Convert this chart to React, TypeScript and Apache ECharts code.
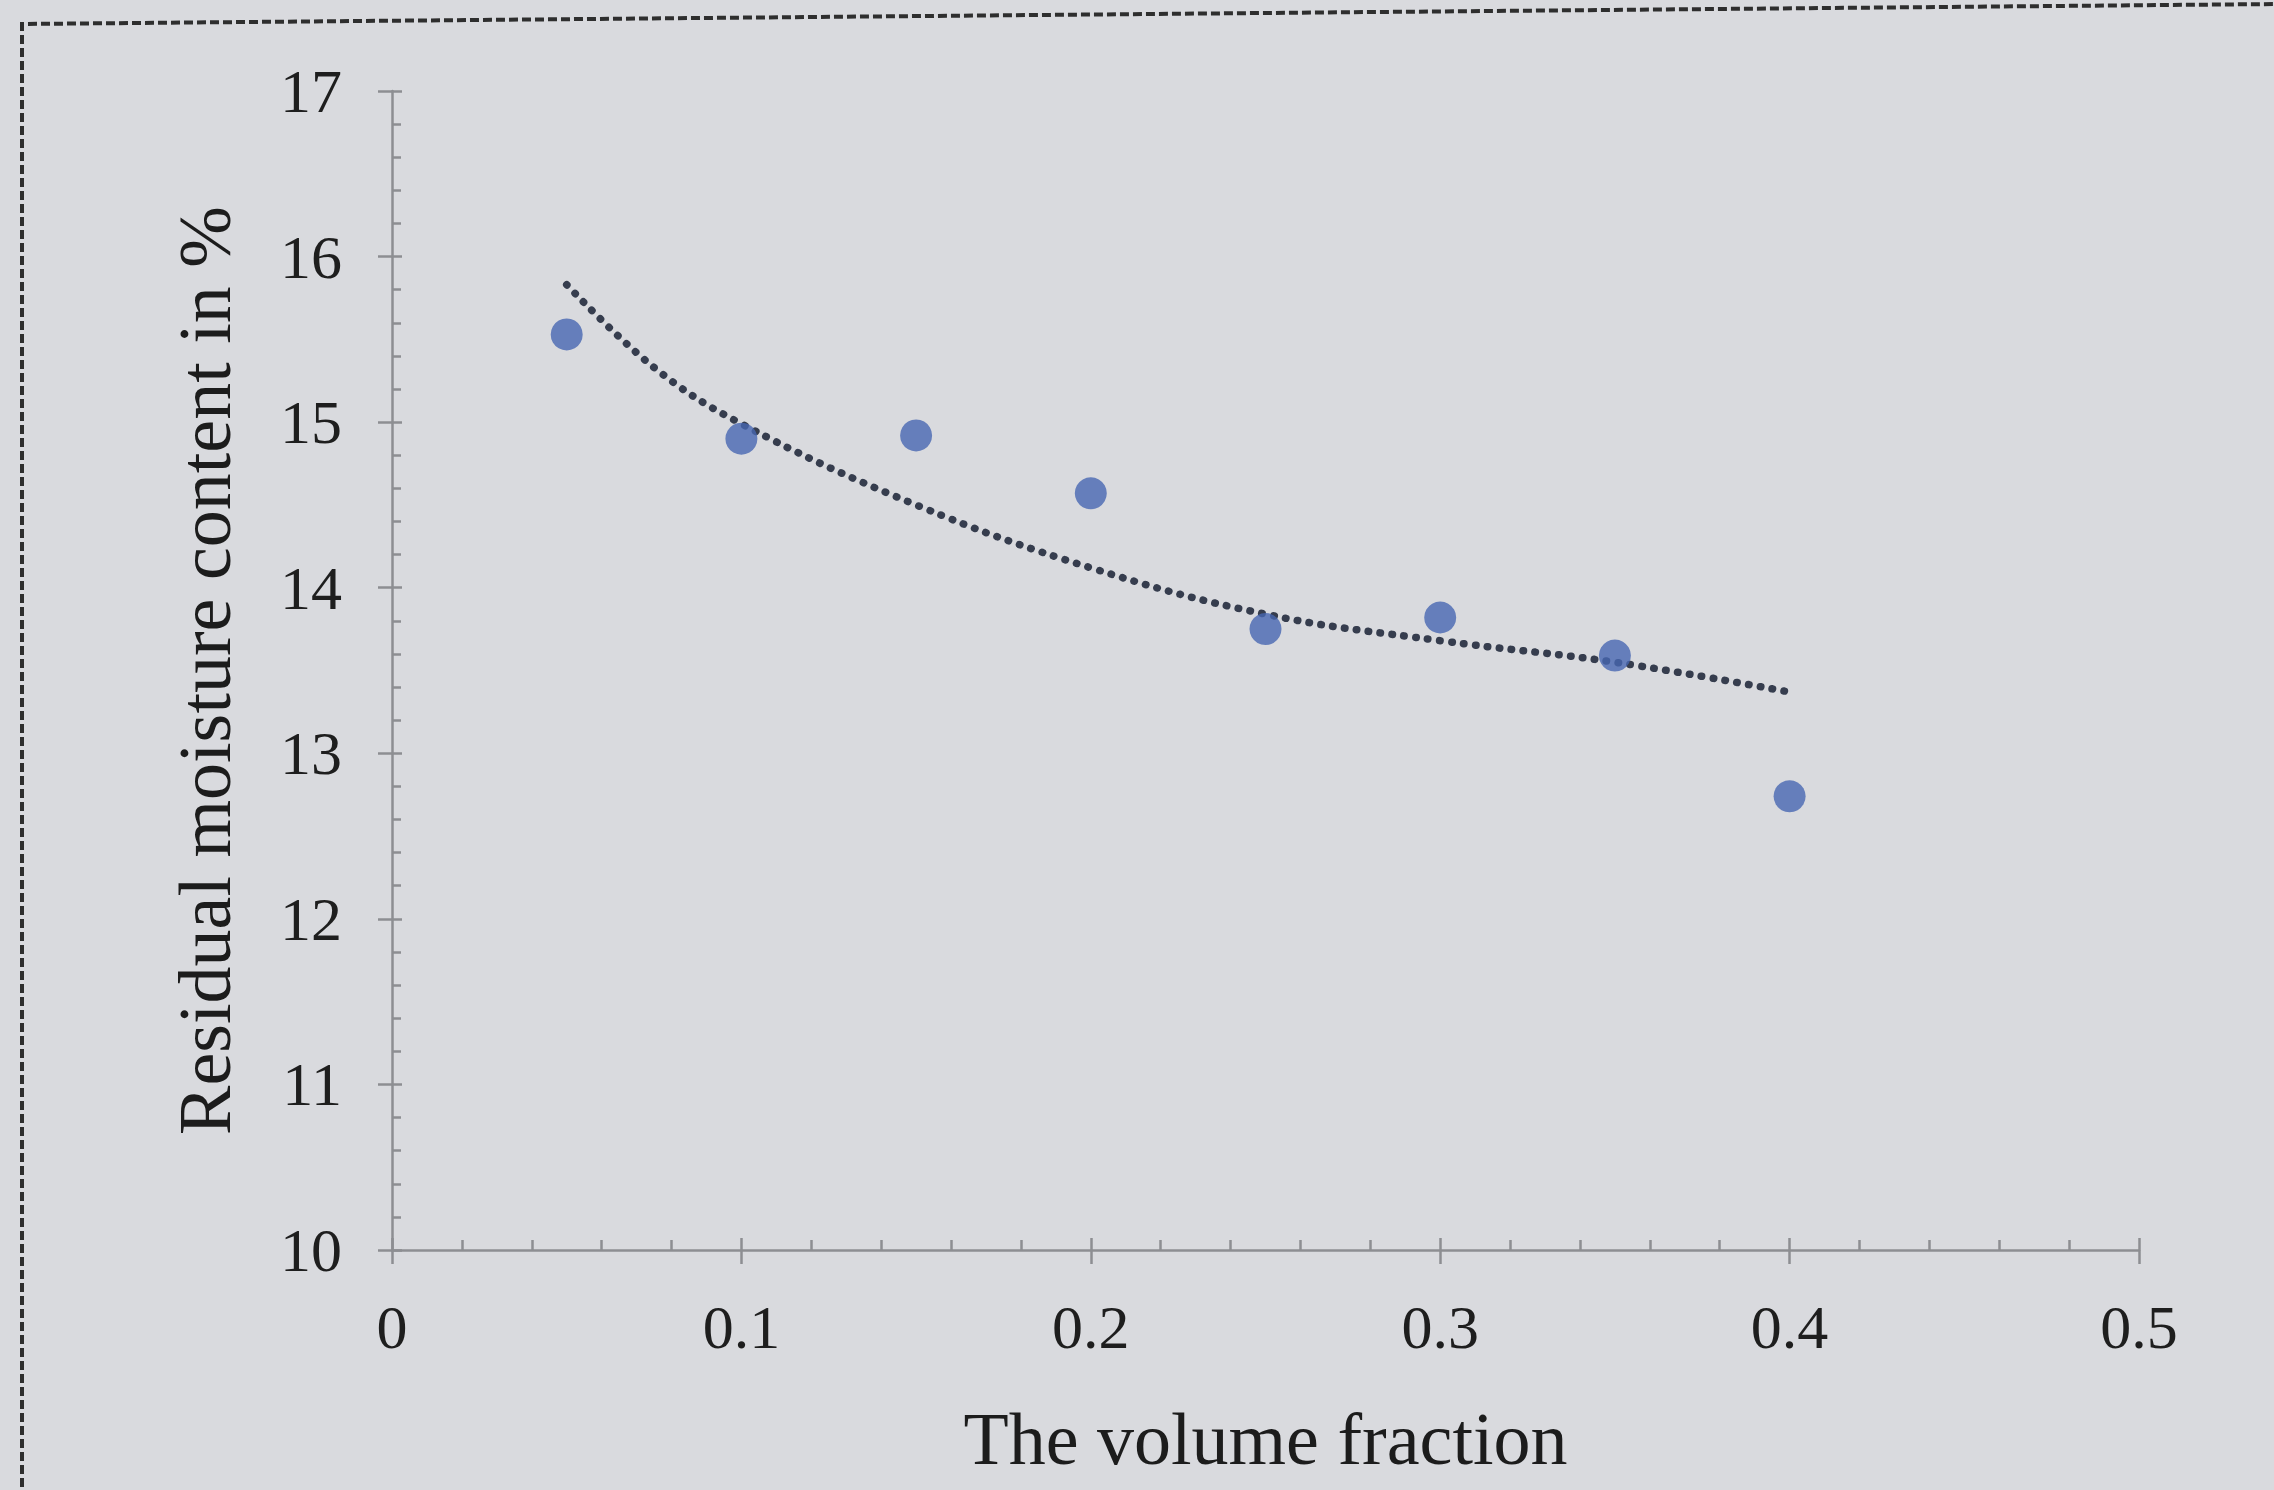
import React, { useEffect, useRef } from "react";
import * as echarts from "echarts";

const xValues = [0.05, 0.1, 0.15, 0.2, 0.25, 0.3, 0.35, 0.4];
const moisture = [15.53, 14.9, 14.92, 14.57, 13.75, 13.82, 13.59, 12.74];
const trendX = [0.05, 0.075, 0.1, 0.15, 0.2, 0.25, 0.3, 0.35, 0.4];
const trendY = [15.83, 15.33, 14.99, 14.5, 14.12, 13.84, 13.68, 13.55, 13.37];

const xTitle = "The volume fraction";
const yTitle = "Residual moisture content in %";

const FONT = "Liberation Serif";
const AXIS_COLOR = "#8d8e92";

export default function App() {
  const ref = useRef<HTMLDivElement>(null);
  useEffect(() => {
    if (!ref.current) return;
    const chart = echarts.init(ref.current, null, { renderer: "svg" });
    const grid = { left: 392, right: 135, top: 91, bottom: 240 };
    const baseX = {
      type: "value",
      min: 0,
      max: 0.5,
      interval: 0.1,
      splitLine: { show: false },
    };
    const baseY = {
      type: "value",
      min: 10,
      max: 17,
      interval: 1,
      splitLine: { show: false },
    };
    chart.setOption({
      animation: false,
      backgroundColor: "#d9dade",
      grid,
      xAxis: [
        {
          ...baseX,
          name: xTitle,
          nameLocation: "middle",
          nameGap: 152,
          nameTextStyle: { fontFamily: FONT, fontSize: 74, color: "#1c1c1c" },
          axisLine: { show: true, lineStyle: { color: AXIS_COLOR, width: 2.5 } },
          axisTick: { show: true, inside: false, length: 14, lineStyle: { color: AXIS_COLOR, width: 2.5 } },
          minorTick: { show: false },
          axisLabel: { fontFamily: FONT, fontSize: 62, color: "#1e1e1e", margin: 46 },
        },
        {
          ...baseX,
          position: "bottom",
          axisLine: { show: false },
          axisTick: { show: true, inside: true, length: 12, lineStyle: { color: AXIS_COLOR, width: 2.5 } },
          minorTick: { show: true, splitNumber: 5, length: 10, lineStyle: { color: AXIS_COLOR, width: 2.5 } },
          axisLabel: { show: false },
        },
      ],
      yAxis: [
        {
          ...baseY,
          name: yTitle,
          nameLocation: "middle",
          nameGap: 150,
          nameTextStyle: { fontFamily: FONT, fontSize: 74, color: "#1c1c1c" },
          axisLine: { show: true, lineStyle: { color: AXIS_COLOR, width: 2.5 } },
          axisTick: { show: true, inside: false, length: 14, lineStyle: { color: AXIS_COLOR, width: 2.5 } },
          minorTick: { show: false },
          axisLabel: { fontFamily: FONT, fontSize: 62, color: "#1e1e1e", margin: 50 },
        },
        {
          ...baseY,
          position: "left",
          axisLine: { show: false },
          axisTick: { show: true, inside: true, length: 10, lineStyle: { color: AXIS_COLOR, width: 2.5 } },
          minorTick: { show: true, splitNumber: 5, length: 9, lineStyle: { color: AXIS_COLOR, width: 2.5 } },
          axisLabel: { show: false },
        },
      ],
      graphic: [
        {
          type: "polyline",
          shape: { points: [[22, 1500], [22, 24], [2280, 4]] },
          style: { stroke: "#2e2e2e", lineWidth: 4, fill: null, lineDash: [9, 4] },
          silent: true,
        },
      ],
      series: [
        {
          type: "line",
          data: trendX.map((x, i) => [x, trendY[i]]),
          smooth: 0.4,
          showSymbol: false,
          symbol: "none",
          lineStyle: { color: "#363d4e", width: 7.5, type: [0.5, 11.5], cap: "round" },
          z: 2,
        },
        {
          type: "scatter",
          data: xValues.map((x, i) => [x, moisture[i]]),
          symbol: "circle",
          symbolSize: 32,
          itemStyle: { color: "#4766b2" },
          z: 3,
        },
      ],
    });
    return () => chart.dispose();
  }, []);
  return <div ref={ref} style={{ position: "fixed", left: 0, top: 0, width: 2274, height: 1490 }} />;
}
